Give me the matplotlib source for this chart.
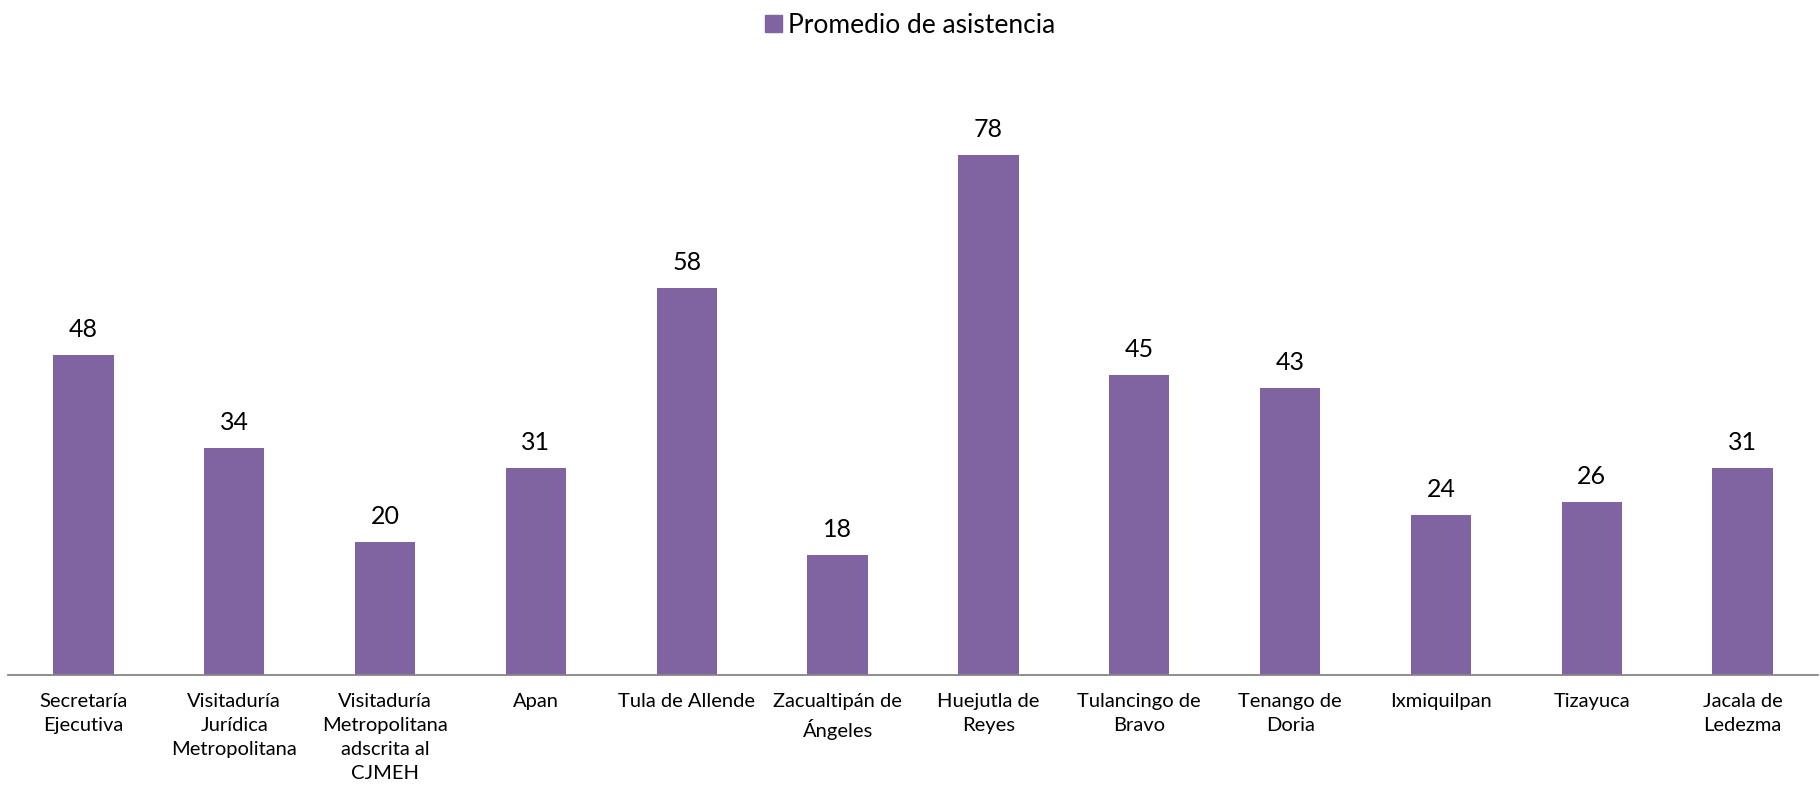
import matplotlib.pyplot as plt
from matplotlib.patches import Patch

# Promedio de asistencia por sede
sedes = ["Secretaría\nEjecutiva", "Visitaduría\nJurídica\nMetropolitana",
         "Visitaduría\nMetropolitana\nadscrita al\nCJMEH", "Apan", "Tula de Allende",
         "Zacualtipán de\nÁngeles", "Huejutla de\nReyes", "Tulancingo de\nBravo",
         "Tenango de\nDoria", "Ixmiquilpan", "Tizayuca", "Jacala de\nLedezma"]
promedio = [48, 34, 20, 31, 58, 18, 78, 45, 43, 24, 26, 31]
serie = "Promedio de asistencia"

color = "#8064A2"
plt.rcParams['font.family'] = ['Lato', 'DejaVu Sans']

fig = plt.figure(figsize=(18.2, 7.9), dpi=100)
ax = fig.add_axes([8 / 1820, 115 / 790, 1810 / 1820, 600 / 790])

x = range(len(promedio))
bars = ax.bar(x, promedio, width=0.4, color=color)
ax.set_xlim(-0.5, len(promedio) - 0.5)
ax.set_ylim(0, 90)

for b, v in zip(bars, promedio):
    ax.annotate(str(v), (b.get_x() + b.get_width() / 2, v), xytext=(0, 13),
                textcoords='offset points', ha='center', va='baseline', fontsize=18)

ax.set_xticks(list(x))
ax.set_xticklabels(sedes, fontsize=14.5, linespacing=1.5, va='top')
ax.tick_params(axis='x', length=0, pad=13)
ax.set_yticks([])
for s in ['top', 'left', 'right']:
    ax.spines[s].set_visible(False)
ax.spines['bottom'].set_color('#868686')
ax.spines['bottom'].set_linewidth(1.3)

fig.legend(handles=[Patch(color=color, label=serie)], loc='upper center',
           bbox_to_anchor=(0.5, 1.014), frameon=False, fontsize=19,
           handlelength=0.65, handleheight=0.65, handletextpad=0.25)

fig.savefig("out.png", dpi=100)
